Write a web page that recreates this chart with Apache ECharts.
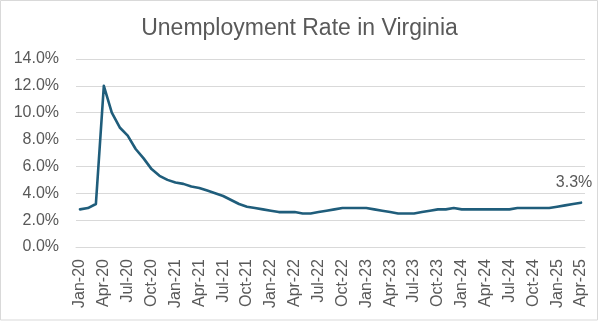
<!DOCTYPE html>
<html>
<head>
<meta charset="utf-8">
<script src="https://cdn.jsdelivr.net/npm/echarts@6/dist/echarts.min.js"></script>
<style>
  html, body { margin: 0; padding: 0; background: #fff; }
  #chart { width: 599px; height: 325px; }
</style>
</head>
<body>
<div id="chart"></div>
<script>
// Monthly unemployment rate, Virginia (percent)
const months = [
  'Jan-20','Feb-20','Mar-20','Apr-20','May-20','Jun-20','Jul-20','Aug-20','Sep-20','Oct-20','Nov-20','Dec-20',
  'Jan-21','Feb-21','Mar-21','Apr-21','May-21','Jun-21','Jul-21','Aug-21','Sep-21','Oct-21','Nov-21','Dec-21',
  'Jan-22','Feb-22','Mar-22','Apr-22','May-22','Jun-22','Jul-22','Aug-22','Sep-22','Oct-22','Nov-22','Dec-22',
  'Jan-23','Feb-23','Mar-23','Apr-23','May-23','Jun-23','Jul-23','Aug-23','Sep-23','Oct-23','Nov-23','Dec-23',
  'Jan-24','Feb-24','Mar-24','Apr-24','May-24','Jun-24','Jul-24','Aug-24','Sep-24','Oct-24','Nov-24','Dec-24',
  'Jan-25','Feb-25','Mar-25','Apr-25'
];
const rate = [
  2.8, 2.9, 3.2, 12.0, 10.0, 8.9, 8.3, 7.3, 6.6, 5.8, 5.3, 5.0,
  4.8, 4.7, 4.5, 4.4, 4.2, 4.0, 3.8, 3.5, 3.2, 3.0, 2.9, 2.8,
  2.7, 2.6, 2.6, 2.6, 2.5, 2.5, 2.6, 2.7, 2.8, 2.9, 2.9, 2.9,
  2.9, 2.8, 2.7, 2.6, 2.5, 2.5, 2.5, 2.6, 2.7, 2.8, 2.8, 2.9,
  2.8, 2.8, 2.8, 2.8, 2.8, 2.8, 2.8, 2.9, 2.9, 2.9, 2.9, 2.9,
  3.0, 3.1, 3.2, 3.3
];
const yTicks = [0, 2, 4, 6, 8, 10, 12, 14];

const FONT = '"Liberation Sans", Arial, sans-serif';
const TEXT = '#595959';
const GRID = '#D9D9D9';
const LINE = '#1F5D7B';

const chart = echarts.init(document.getElementById('chart'), null, { renderer: 'canvas' });
const last = rate.length - 1;

chart.setOption({
  animation: false,
  backgroundColor: '#fff',
  textStyle: { fontFamily: FONT },
  title: {
    text: 'Unemployment Rate in Virginia',
    left: 'center',
    top: 12,
    textStyle: { fontFamily: FONT, fontSize: 23, fontWeight: 'normal', color: TEXT }
  },
  graphic: [{
    type: 'rect',
    shape: { x: 0.5, y: 0.5, width: 597, height: 319.5 },
    style: { fill: 'none', stroke: GRID, lineWidth: 1 },
    silent: true
  }],
  grid: { left: 76, right: 14, top: 59, bottom: 78 },
  xAxis: {
    type: 'category',
    data: months,
    boundaryGap: true,
    axisLine: { show: true, lineStyle: { color: GRID, width: 1 } },
    axisTick: { show: false },
    axisLabel: {
      rotate: 90,
      interval: 2,
      margin: 12,
      fontFamily: FONT,
      fontSize: 16,
      color: TEXT
    },
    splitLine: { show: false }
  },
  yAxis: {
    type: 'value',
    min: yTicks[0],
    max: yTicks[yTicks.length - 1],
    interval: 2,
    axisLine: { show: false },
    axisTick: { show: false },
    axisLabel: {
      margin: 17,
      fontFamily: FONT,
      fontSize: 16,
      color: TEXT,
      formatter: v => v.toFixed(1) + '%'
    },
    splitLine: { show: true, lineStyle: { color: GRID, width: 1 } }
  },
  series: [{
    type: 'line',
    data: rate,
    symbol: 'circle',
    symbolSize: 0,
    showSymbol: true,
    showAllSymbol: true,
    smooth: false,
    lineStyle: { color: LINE, width: 2.6, cap: 'round', join: 'round' },
    itemStyle: { color: LINE },
    label: {
      show: true,
      position: 'top',
      distance: 12,
      offset: [-7, 0],
      fontFamily: FONT,
      fontSize: 16,
      color: TEXT,
      formatter: p => (p.dataIndex === last ? p.value.toFixed(1) + '%' : '')
    }
  }]
});
</script>
</body>
</html>
